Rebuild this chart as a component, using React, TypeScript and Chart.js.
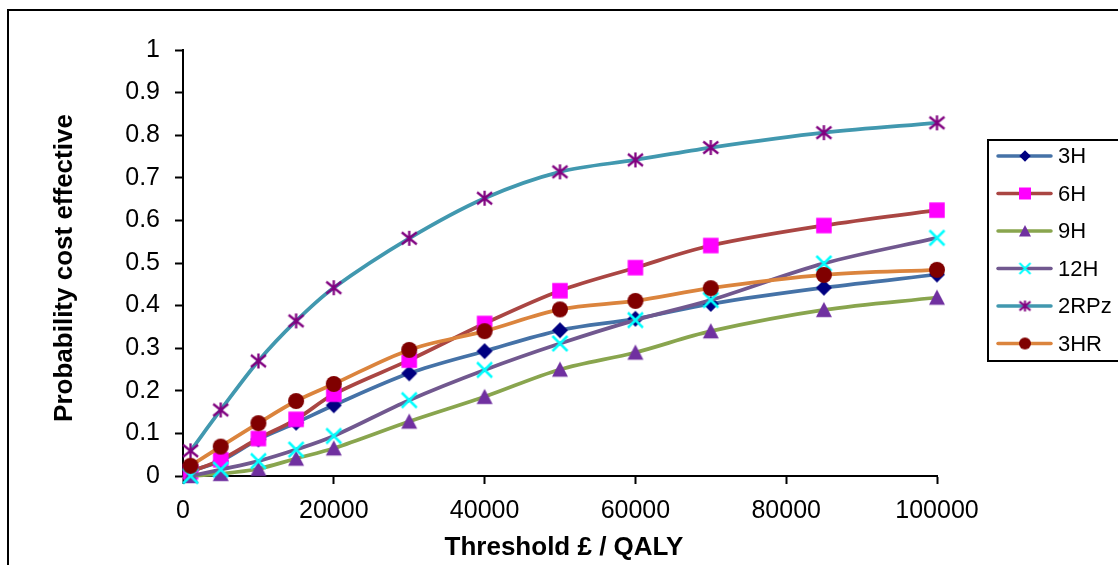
import React, { useEffect, useRef } from 'react';
import { Chart, registerables } from 'chart.js';

Chart.register(...registerables);

// ---------- data ----------
const thresholds = [1000, 5000, 10000, 15000, 20000, 30000, 40000, 50000, 60000, 70000, 85000, 100000];
const seriesNames = ['3H', '6H', '9H', '12H', '2RPz', '3HR'];
const values3H = [0.012, 0.035, 0.086, 0.125, 0.166, 0.241, 0.293, 0.342, 0.369, 0.404, 0.442, 0.473];
const values6H = [0.01, 0.038, 0.088, 0.133, 0.192, 0.272, 0.358, 0.435, 0.489, 0.541, 0.588, 0.624];
const values9H = [0.0, 0.005, 0.017, 0.041, 0.065, 0.128, 0.186, 0.25, 0.29, 0.34, 0.39, 0.419];
const values12H = [0.0, 0.015, 0.035, 0.062, 0.094, 0.178, 0.249, 0.311, 0.366, 0.413, 0.499, 0.559];
const values2RPz = [0.059, 0.155, 0.27, 0.364, 0.442, 0.558, 0.652, 0.714, 0.742, 0.771, 0.806, 0.829];
const values3HR = [0.024, 0.069, 0.124, 0.176, 0.216, 0.296, 0.34, 0.391, 0.411, 0.441, 0.472, 0.484];
const seriesValues = [values3H, values6H, values9H, values12H, values2RPz, values3HR];
const xTickLabels = ['0', '20000', '40000', '60000', '80000', '100000'];
const yTickLabels = ['0', '0.1', '0.2', '0.3', '0.4', '0.5', '0.6', '0.7', '0.8', '0.9', '1'];
const xAxisTitle = 'Threshold £ / QALY';
const yAxisTitle = 'Probability cost effective';

// ---------- styles ----------
const lineColors = ['#4572A7', '#AA4643', '#89A54E', '#71588F', '#4198AF', '#DB843D'];
const markerColors = ['#000080', '#FF00FF', '#7030A0', '#00FFFF', '#800080', '#800000'];
const markerShapes = ['diamond', 'square', 'triangle', 'x', 'star', 'circle'];
const FONT = '"Liberation Sans", Arial, Helvetica, sans-serif';

function makeMarker(shape: string, color: string, s: number): HTMLCanvasElement {
  const size = Math.ceil(s + 4);
  const cv = document.createElement('canvas');
  cv.width = size;
  cv.height = size;
  const ctx = cv.getContext('2d')!;
  const c = size / 2;
  const h = s / 2;
  ctx.fillStyle = color;
  ctx.strokeStyle = color;
  ctx.lineCap = 'butt';
  switch (shape) {
    case 'diamond':
      ctx.beginPath();
      ctx.moveTo(c, c - h);
      ctx.lineTo(c + h, c);
      ctx.lineTo(c, c + h);
      ctx.lineTo(c - h, c);
      ctx.closePath();
      ctx.fill();
      break;
    case 'square':
      ctx.fillRect(c - h, c - h, s, s);
      break;
    case 'triangle':
      ctx.beginPath();
      ctx.moveTo(c, c - h);
      ctx.lineTo(c + h, c + h * 0.92);
      ctx.lineTo(c - h, c + h * 0.92);
      ctx.closePath();
      ctx.fill();
      break;
    case 'x':
      ctx.lineWidth = s > 12 ? 2.5 : 2;
      ctx.beginPath();
      ctx.moveTo(c - h, c - h);
      ctx.lineTo(c + h, c + h);
      ctx.moveTo(c + h, c - h);
      ctx.lineTo(c - h, c + h);
      ctx.stroke();
      break;
    case 'star':
      ctx.lineWidth = s > 12 ? 2.3 : 2;
      ctx.beginPath();
      ctx.moveTo(c - h, c - h * 0.8);
      ctx.lineTo(c + h, c + h * 0.8);
      ctx.moveTo(c + h, c - h * 0.8);
      ctx.lineTo(c - h, c + h * 0.8);
      ctx.moveTo(c, c - h);
      ctx.lineTo(c, c + h);
      ctx.stroke();
      break;
    case 'circle':
    default:
      ctx.beginPath();
      ctx.arc(c, c, h, 0, Math.PI * 2);
      ctx.fill();
      break;
  }
  return cv;
}

export default function App() {
  const canvasRef = useRef<HTMLCanvasElement | null>(null);

  useEffect(() => {
    const canvas = canvasRef.current;
    if (!canvas) return;

    const chartSizes = [16, 15.5, 16, 15, 15, 16];
    const legendSizes = [11.5, 12, 12, 11, 11, 12];
    const chartMarkers = markerShapes.map((sh, i) => makeMarker(sh, markerColors[i], chartSizes[i]));
    const legendMarkers = markerShapes.map((sh, i) => makeMarker(sh, markerColors[i], legendSizes[i]));

    const datasets = seriesNames.map((name, i) => ({
      label: name,
      data: thresholds.map((t, j) => ({ x: t, y: seriesValues[i][j] })),
      borderColor: lineColors[i],
      backgroundColor: markerColors[i],
      borderWidth: 3.75,
      tension: 0.33,
      pointStyle: chartMarkers[i],
      pointRadius: 8,
      pointHoverRadius: 8,
      clip: false as any,
      order: seriesNames.length - 1 - i,
    }));

    const decor = {
      id: 'decor',
      afterDraw(chart: any) {
        const ctx: CanvasRenderingContext2D = chart.ctx;
        ctx.save();
        // outer frame
        ctx.strokeStyle = '#000';
        ctx.lineWidth = 2;
        ctx.strokeRect(8, 10, 1300, 800);

        // axis titles
        ctx.fillStyle = '#000';
        ctx.font = `bold 26px ${FONT}`;
        ctx.textAlign = 'center';
        ctx.textBaseline = 'middle';
        ctx.fillText(xAxisTitle, 564, 548);
        ctx.save();
        ctx.translate(65, 268);
        ctx.rotate(-Math.PI / 2);
        ctx.fillText(yAxisTitle, 0, 0);
        ctx.restore();

        // legend
        ctx.lineWidth = 2;
        ctx.strokeStyle = '#000';
        ctx.strokeRect(988, 140, 400, 221);
        ctx.font = `22px ${FONT}`;
        ctx.textAlign = 'left';
        seriesNames.forEach((name, i) => {
          const y = 156 + i * 37.5;
          ctx.strokeStyle = lineColors[i];
          ctx.lineWidth = 3.5;
          ctx.lineCap = 'round';
          ctx.beginPath();
          ctx.moveTo(998, y);
          ctx.lineTo(1051, y);
          ctx.stroke();
          const m = legendMarkers[i];
          ctx.drawImage(m, 1025 - m.width / 2, y - m.height / 2);
          ctx.fillStyle = '#000';
          ctx.fillText(name, 1058, y + 1);
        });
        ctx.restore();
      },
    };

    const chart = new Chart(canvas, {
      type: 'line',
      data: { datasets: datasets as any },
      options: {
        animation: false,
        responsive: false,
        devicePixelRatio: 1,
        layout: { padding: { left: 0, right: 181, top: 50, bottom: 0 } },
        plugins: {
          legend: { display: false },
          tooltip: { enabled: false },
          title: { display: false },
        },
        scales: {
          x: {
            type: 'linear',
            min: 0,
            max: 100000,
            afterFit: (scale: any) => {
              scale.height = 89;
            },
            border: { display: true, color: '#000', width: 2 },
            grid: {
              display: true,
              drawOnChartArea: false,
              drawTicks: true,
              tickLength: 8,
              tickColor: '#000',
              tickWidth: 2,
            },
            ticks: {
              stepSize: 20000,
              color: '#000',
              padding: 12,
              maxRotation: 0,
              font: { family: FONT, size: 25 },
              callback: (_v: any, i: number) => xTickLabels[i],
            },
          },
          y: {
            type: 'linear',
            min: 0,
            max: 1,
            afterFit: (scale: any) => {
              scale.width = 183;
            },
            border: { display: true, color: '#000', width: 2 },
            grid: {
              display: true,
              drawOnChartArea: false,
              drawTicks: true,
              tickLength: 8,
              tickColor: '#000',
              tickWidth: 2,
            },
            ticks: {
              stepSize: 0.1,
              color: '#000',
              padding: 15,
              font: { family: FONT, size: 25 },
              callback: (_v: any, i: number) => yTickLabels[i],
            },
          },
        },
      },
      plugins: [decor],
    });

    return () => {
      chart.destroy();
    };
  }, []);

  return (
    <div style={{ position: 'fixed', left: 0, top: 0, width: 1118, height: 565, background: '#fff' }}>
      <canvas ref={canvasRef} width={1118} height={565} style={{ display: 'block', width: 1118, height: 565 }} />
    </div>
  );
}
